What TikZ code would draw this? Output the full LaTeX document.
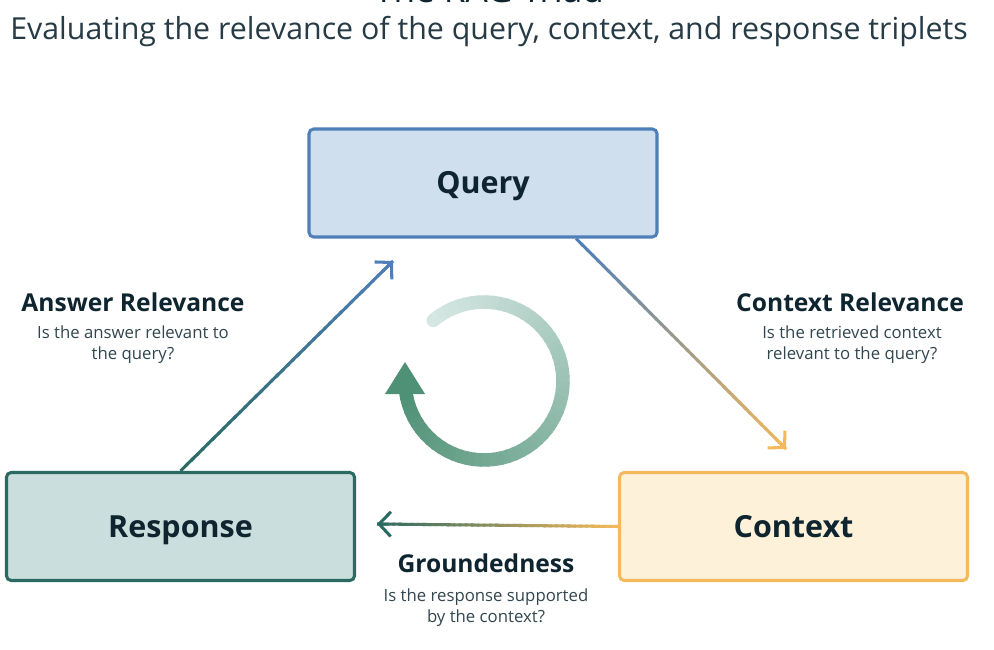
\documentclass[tikz,border=0pt]{standalone}
\usepackage{fontspec}
\setmainfont{Open Sans}
\usetikzlibrary{positioning,calc,arrows.meta,backgrounds}

\definecolor{ink}{HTML}{0E2530}
\definecolor{qfill}{HTML}{CFDFEE}
\definecolor{qline}{HTML}{4F7FB9}
\definecolor{rfill}{HTML}{C9DEDD}
\definecolor{rline}{HTML}{2B6A63}
\definecolor{cfill}{HTML}{FDF2D9}
\definecolor{cline}{HTML}{F3B95B}
\definecolor{ringlight}{HTML}{D5E7E3}
\definecolor{ringdark}{HTML}{4F9176}

% straight connector that fades from one colour to another
\newcommand\fadeline[4]{%
  \foreach \k in {0,...,39}{%
    \pgfmathsetmacro\ta{\k/40}%
    \pgfmathsetmacro\tb{min(1,(\k+1.4)/40)}%
    \pgfmathsetmacro\pc{100-2.5*\k}%
    \draw[line width=2.6pt,#3!\pc!#4] ($(#1)!\ta!(#2)$) -- ($(#1)!\tb!(#2)$);}%
  \draw[line width=2.6pt,#4,-{Straight Barb[length=10pt,width=21pt]}] ($(#1)!0.96!(#2)$) -- (#2);}

\begin{document}
\begin{tikzpicture}[x=0.03cm,y=-0.03cm,
    box/.style={draw,line width=2.6pt,rounded corners=4pt,minimum width=10.44cm,minimum height=3.24cm,
      text height=18.7pt,text depth=0pt,text=ink,font=\fontsize{26}{30}\selectfont\bfseries},
    head/.style={text=ink,font=\fontsize{21}{25}\selectfont\bfseries},
    note/.style={text=ink!85,align=center,font=\fontsize{14.3}{17.8}\selectfont}]
  \useasboundingbox (0,0) rectangle (994,650);
  \clip (0,0) rectangle (994,650);
  \fill[white] (0,0) rectangle (994,650);

  % titles
  \node[anchor=base,text=ink,font=\fontsize{30}{34}\selectfont] (title) at (489,3) {The RAG Triad};
  \node[text=ink!90,font=\fontsize{25.9}{30}\selectfont] (subtitle) at (489,32)
    {Evaluating the relevance of the query, context, and response triplets};

  % the three boxes
  \node[box,draw=qline,fill=qfill] (query) at (483,183) {Query};
  \node[box,draw=rline,fill=rfill] (response) at (180.5,526.5) {Response};
  \node[box,draw=cline,fill=cfill] (context) at (793.5,526.5) {Context};

  \begin{scope}[on background layer]
    \foreach \g in {14,11,...,2}{
      \fill[qline,opacity=0.035,rounded corners=8pt] ($(query.south west)+(-\g,\g)$) rectangle ($(query.north east)+(\g,-\g)$);
      \fill[rline,opacity=0.035,rounded corners=8pt] ($(response.south west)+(-\g,\g)$) rectangle ($(response.north east)+(\g,-\g)$);
      \fill[cline,opacity=0.05,rounded corners=8pt] ($(context.south west)+(-\g,\g)$) rectangle ($(context.north east)+(\g,-\g)$);
    }
  \end{scope}

  % connectors
  \coordinate (qtip) at (393,261);
  \coordinate (ctip) at (786,449);
  \coordinate (rtip) at (377,524);
  \coordinate (qfoot) at ($(query.south west)!0.765!(query.south east)$);
  \fadeline{response.north}{qtip}{rline}{qline}
  \fadeline{qfoot}{ctip}{qline}{cline}
  \fadeline{context.west}{rtip}{cline}{rline}

  % labels
  \node[head] (ansrel) at (133,302) {Answer Relevance};
  \node[note] (ansq) at (133,345) {Is the answer relevant to\\the query?};
  \node[head] (ctxrel) at (850,302) {Context Relevance};
  \node[note] (ctxq) at (852,345) {Is the retrieved context\\relevant to the query?};
  \node[head] (ground) at (486,563) {Groundedness};
  \node[note] (groundq) at (486,608) {Is the response supported\\by the context?};

  % cycle symbol in the middle
  \coordinate (ring) at (484,381);
  \foreach \k in {0,...,59}{
    \pgfmathsetmacro\sa{-130+\k*(302/60)}
    \pgfmathsetmacro\sb{min(172,-130+(\k+1.3)*(302/60))}
    \pgfmathsetmacro\pc{max(0,100-\k*(100/59))}
    \draw[line width=11.5pt,ringlight!\pc!ringdark] ($(ring)+(\sa:79)$) arc[start angle=\sa,end angle=\sb,radius=79];
  }
  \fill[ringlight] ($(ring)+(-130:79)$) circle (5.75pt);
  \fill[ringdark] (405,362) -- (385,394) -- (425,394) -- cycle;
\end{tikzpicture}
\end{document}
